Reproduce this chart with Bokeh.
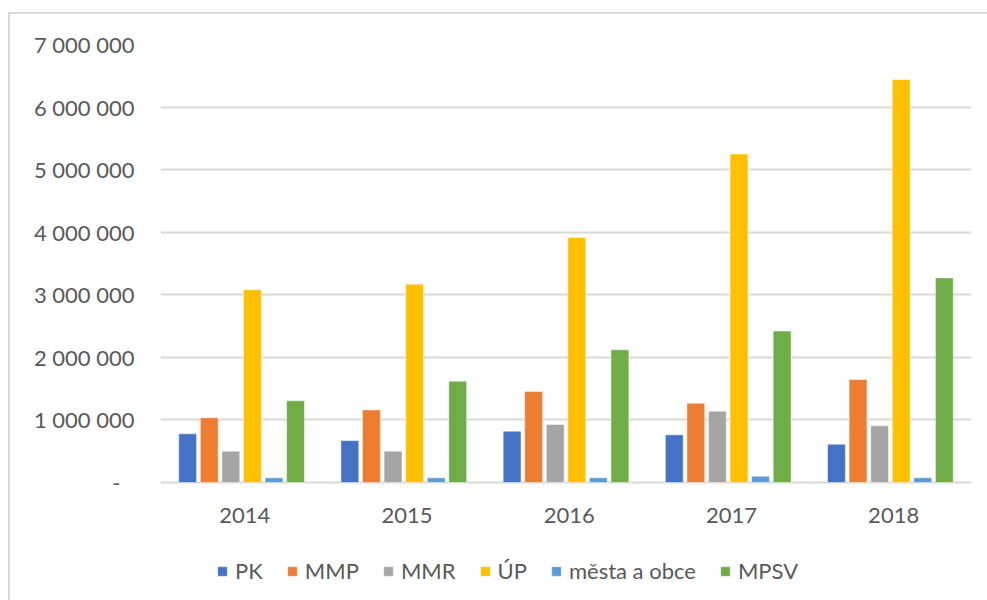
from bokeh.plotting import figure
from bokeh.models import ColumnDataSource, FactorRange, Range1d, Legend, LegendItem, FixedTicker
from bokeh.core.properties import value
from bokeh.transform import dodge
from bokeh.embed import file_html
from bokeh.resources import INLINE

years = ["2014", "2015", "2016", "2017", "2018"]
series_names = ["PK", "MMP", "MMR", "ÚP", "města a obce", "MPSV"]
pk = [778000, 670000, 820000, 762000, 612000]
mmp = [1034000, 1160000, 1455000, 1267000, 1646000]
mmr = [500000, 500000, 927000, 1140000, 906000]
up = [3080000, 3170000, 3915000, 5250000, 6440000]
mesta = [75000, 75000, 75000, 100000, 75000]
mpsv = [1305000, 1620000, 2120000, 2420000, 3270000]
y_ticks = [0, 1000000, 2000000, 3000000, 4000000, 5000000, 6000000, 7000000]
y_tick_labels = ["-", "1 000 000", "2 000 000", "3 000 000", "4 000 000",
                 "5 000 000", "6 000 000", "7 000 000"]

colors = ["#4472C4", "#ED7D31", "#A5A5A5", "#FFC000", "#5B9BD5", "#70AD47"]
keys = ["pk", "mmp", "mmr", "up", "mesta", "mpsv"]
values = [pk, mmp, mmr, up, mesta, mpsv]

data = {"year": years}
for k, v in zip(keys, values):
    data[k] = v
src = ColumnDataSource(data)

FONT = "Lato"
TXT = "#595959"
GRID = "#d9d9d9"

# plot area: value axis occupies the top 438 px; extra room below zero holds
# category labels and the legend (kept inside the frame so nothing is clipped)
Y_MAX = 7000000
AXIS_PX = 438
FRAME_PX = 556
y_min = Y_MAX - Y_MAX * FRAME_PX / AXIS_PX

p = figure(x_range=FactorRange(*years), y_range=Range1d(y_min, Y_MAX),
           frame_width=811, frame_height=FRAME_PX,
           min_border_left=150, min_border_right=16, min_border_top=30, min_border_bottom=0,
           output_backend="svg", toolbar_location=None, tools="")
p.styles = {"border-left": "2px solid #d9d9d9", "border-top": "2px solid #d9d9d9",
            "margin": "12px 0px 0px 8px"}
p.outline_line_color = None
p.background_fill_color = "white"
p.border_fill_color = "white"

slot = 0.133
renderers = []
for i, (k, c) in enumerate(zip(keys, colors)):
    off = (i - 2.5) * slot
    r = p.vbar(x=dodge("year", off, range=p.x_range), top=k, bottom=0, width=0.11, source=src,
               fill_color=c, line_color="white", line_width=0.8, line_alpha=0.6)
    renderers.append(r)

p.xgrid.grid_line_color = None
p.ygrid.grid_line_color = GRID
p.ygrid.grid_line_width = 1.8
p.ygrid.ticker = FixedTicker(ticks=y_ticks)

p.yaxis.ticker = FixedTicker(ticks=y_ticks)
nb = "\u00a0"
overrides = {}
for t, lab in zip(y_ticks, y_tick_labels):
    overrides[t] = lab + (nb * 2 + "\u2009" if lab == "-" else "")
p.yaxis.major_label_overrides = overrides
p.yaxis.axis_line_color = None
p.yaxis.major_tick_line_color = None
p.yaxis.minor_tick_line_color = None
p.yaxis.major_label_standoff = 20
p.yaxis.major_label_text_font = FONT
p.yaxis.major_label_text_font_size = "22px"
p.yaxis.major_label_text_color = TXT

p.xaxis.visible = False

# category labels under the zero line
p.text(x=dodge("year", 0.02, range=p.x_range), y=0, text="year", source=src,
       y_offset=33, text_align="center", text_baseline="middle",
       text_font=value(FONT), text_font_size="22px", text_color=TXT)

items = [LegendItem(label=n, renderers=[r]) for n, r in zip(series_names, renderers)]
legend = Legend(items=items, orientation="horizontal", location=(56, 16),
                padding=0, margin=0, spacing=23, label_standoff=7,
                glyph_width=12, glyph_height=12, label_height=26,
                label_text_font=FONT, label_text_font_size="22px", label_text_color=TXT,
                border_line_color=None, background_fill_alpha=0)
p.add_layout(legend)

open("out.html", "w").write(file_html(p, INLINE))
